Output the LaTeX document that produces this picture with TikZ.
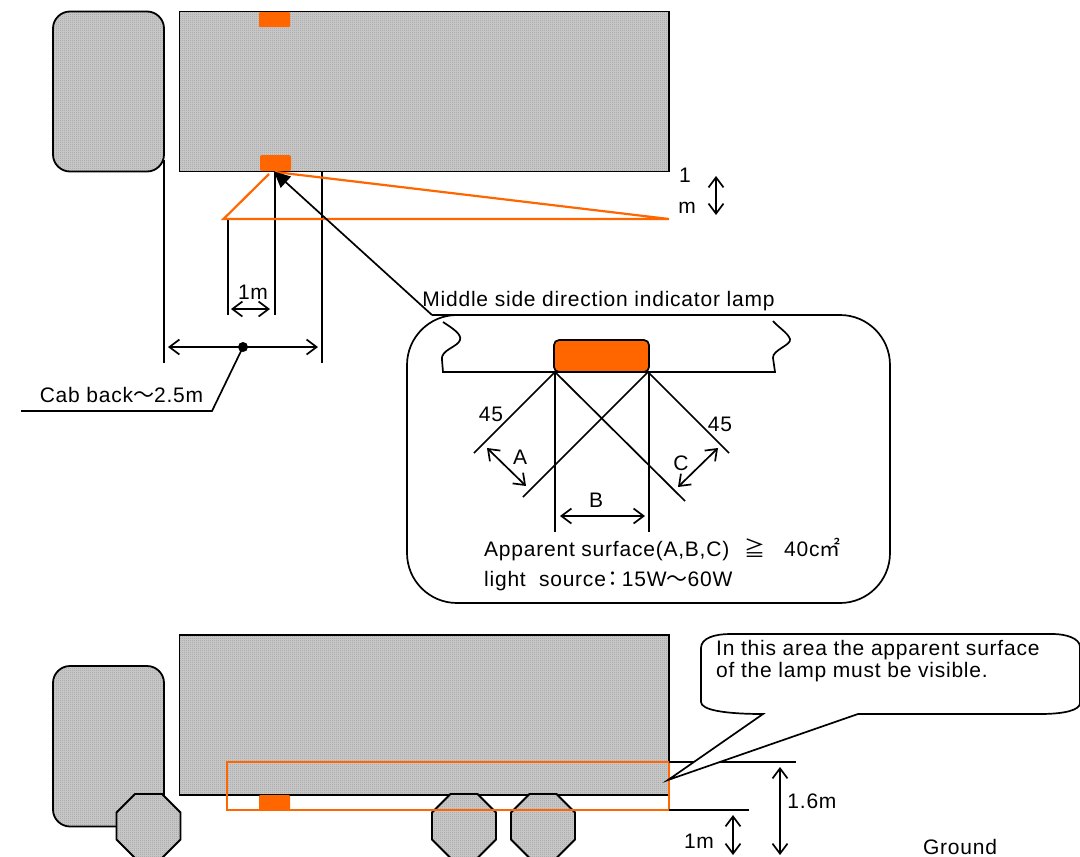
\documentclass[tikz,border=0pt]{standalone}
\usepackage{fontspec}
\setmainfont[LetterSpace=3.7]{Liberation Sans}
\newfontfamily\cjk{Noto Sans CJK JP}
\usetikzlibrary{arrows.meta,patterns}
\pgfdeclarepatternformonly{truckdots}{\pgfqpoint{0pt}{0pt}}{\pgfqpoint{2pt}{2pt}}{\pgfqpoint{2pt}{2pt}}{
	\pgfpathrectangle{\pgfqpoint{0pt}{0pt}}{\pgfqpoint{1pt}{1pt}}
	\pgfpathrectangle{\pgfqpoint{1pt}{1pt}}{\pgfqpoint{1pt}{1pt}}
	\pgfusepath{fill}
}
\definecolor{lampcolor}{RGB}{255,102,0}
\tikzset{
	truck/.style={draw=black, line width=1.8pt, preaction={fill=black!20}, preaction={pattern=truckdots, pattern color=black!38}},
	lamp/.style={fill=lampcolor},
	sight/.style={draw=lampcolor, line width=2.2pt},
	thin line/.style={draw=black, line width=1.7pt},
	dim/.style={thin line, {Straight Barb[length=10pt,width=15pt]}-{Straight Barb[length=10pt,width=15pt]}},
	label/.style={inner sep=0pt, font=\fontsize{21}{21}\selectfont}
}
\def\wheel(#1,#2){\draw[truck] (#1-13.5,#2-32) -- (#1+13.5,#2-32) -- (#1+32,#2-13.5) -- (#1+32,#2+13.5) -- (#1+13.5,#2+32) -- (#1-13.5,#2+32) -- (#1-32,#2+13.5) -- (#1-32,#2-13.5) -- cycle;}

\begin{document}
\begin{tikzpicture}[x=1pt, y=-1pt]
			%%%%% START %%%%%
			\useasboundingbox (0, 0) rectangle (1080, 857);
			\clip (0, 0) rectangle (1080, 857);
			
			% top view
			\draw[truck, rounded corners=17pt] (53, 11.5) rectangle (164, 171.5);
			\draw[truck] (179.5, 11.5) rectangle (669, 171.5);
			\fill[lamp, rounded corners=1pt] (259, 12) rectangle (290, 27);
			\fill[lamp, rounded corners=2pt] (260, 155) rectangle (291, 171);
			
			\draw[thin line] (164, 160) -- (164, 363);
			\draw[thin line] (322, 171) -- (322, 363);
			\draw[thin line] (275, 172) -- (275, 315);
			\draw[thin line] (228, 220) -- (228, 315);
			
			\draw[sight] (269, 174) -- (223.5, 219) -- (669, 219) -- (275, 172);
			
			\coordinate (lamptip) at (274, 171.5);
			\coordinate (leader) at (432, 315);
			\draw[thin line, -{Triangle[length=16pt,width=15pt]}] (leader) -- (lamptip);
			\draw[thin line] (leader) -- (748, 315);
			
			\draw[dim] (231, 309) -- (270, 309);
			\node[label] (widthlabel) at (253, 292) {1m};
			\draw[dim] (168, 347) -- (318, 347);
			\fill (243, 347) coordinate (cabdot) circle (5);
			\draw[thin line] (cabdot) -- (212, 411) -- (21, 411);
			\node[label] (cablabel) at (121.5, 395) {Cab back{\cjk ～}2.5m};
			
			\node[label] (oneup) at (685, 175) {1};
			\node[label] (onedown) at (687, 208) {m};
			\draw[dim] (716, 176) -- (716, 215);
			
			% lamp detail
			\node[label] (detailtitle) at (598.5, 301) {Middle side direction indicator lamp};
			\draw[line width=1.7pt, rounded corners=50pt] (407, 315) rectangle (890, 603);
			\draw[thin line] (443, 322) .. controls (452, 328) and (462, 334) .. (460, 340) .. controls (458, 347) and (440, 350) .. (442, 360) -- (443, 372) -- (775, 372) -- (773, 358) .. controls (772, 350) and (792, 345) .. (790, 339) .. controls (788, 333) and (778, 327) .. (773, 321);
			\draw[thin line, fill=lampcolor, rounded corners=5pt] (554, 340) rectangle (649, 372);
			
			\draw[thin line] (555, 372) -- (474, 453);
			\draw[thin line] (555, 372) -- (685, 501);
			\draw[thin line] (648, 372) -- (523, 497);
			\draw[thin line] (648, 372) -- (729, 453);
			\draw[thin line] (555, 372) -- (555, 532);
			\draw[thin line] (649, 372) -- (649, 532);
			
			\node[label] (anglea) at (491, 414) {45};
			\node[label] (anglec) at (720, 424) {45};
			\draw[dim] (487, 448) -- (526, 486);
			\node[label] (surfa) at (520, 457) {A};
			\draw[dim] (560, 516) -- (645, 516);
			\node[label] (surfb) at (596, 500) {B};
			\draw[dim] (718, 448) -- (678, 487);
			\node[label] (surfc) at (681, 463) {C};
			
			\node[label, anchor=base west] (surftext) at (484, 556) {Apparent surface(A,B,C)};
			\node[label, anchor=base] (geqtext) at (755, 556) {\cjk ≧};
			\node[label, anchor=base west] (areatext) at (784, 556) {40c{\cjk ㎡}};
			\node[label, anchor=base west] (sourcetext) at (484, 586) {light\ \ source{\cjk\kern-3pt：\kern-2pt}15W{\cjk ～}60W};
			
			% side view
			\draw[truck, rounded corners=17pt] (53, 666) rectangle (164, 826.5);
			\draw[truck] (179.5, 635) rectangle (669, 795);
			\wheel(148.5,826)
			\wheel(464,826)
			\wheel(543,826)
			\fill[lamp, rounded corners=1pt] (259, 795) rectangle (290, 810);
			\draw[sight] (227, 762) rectangle (669, 810);
			
			\draw[thin line] (669, 762) -- (796, 762);
			\draw[thin line] (669, 810) -- (749, 810);
			\draw[dim] (780, 767) -- (780, 855);
			\node[label] (hightext) at (812, 801) {1.6m};
			\draw[dim] (733, 815) -- (733, 855);
			\node[label] (lowtext) at (699, 841) {1m};
			\node[label] (groundtext) at (960, 847) {Ground};
			
			\draw[line width=1.7pt, fill=white] (763, 714) -- (668, 780) -- (858, 714) -- (1040, 714) .. controls (1065, 714) and (1080, 710) .. (1080, 703) -- (1080, 647) .. controls (1080, 638) and (1065, 634) .. (1053, 634) -- (730, 634) .. controls (715, 634) and (701, 638) .. (701, 648) -- (701, 702) .. controls (701, 710) and (725, 714) .. cycle;
			\node[label, anchor=base west] (calloutone) at (716, 655) {In this area the apparent surface};
			\node[label, anchor=base west] (callouttwo) at (716, 677) {of the lamp must be visible.};
			
			%%%%% END %%%%%
		\end{tikzpicture}
\end{document}
